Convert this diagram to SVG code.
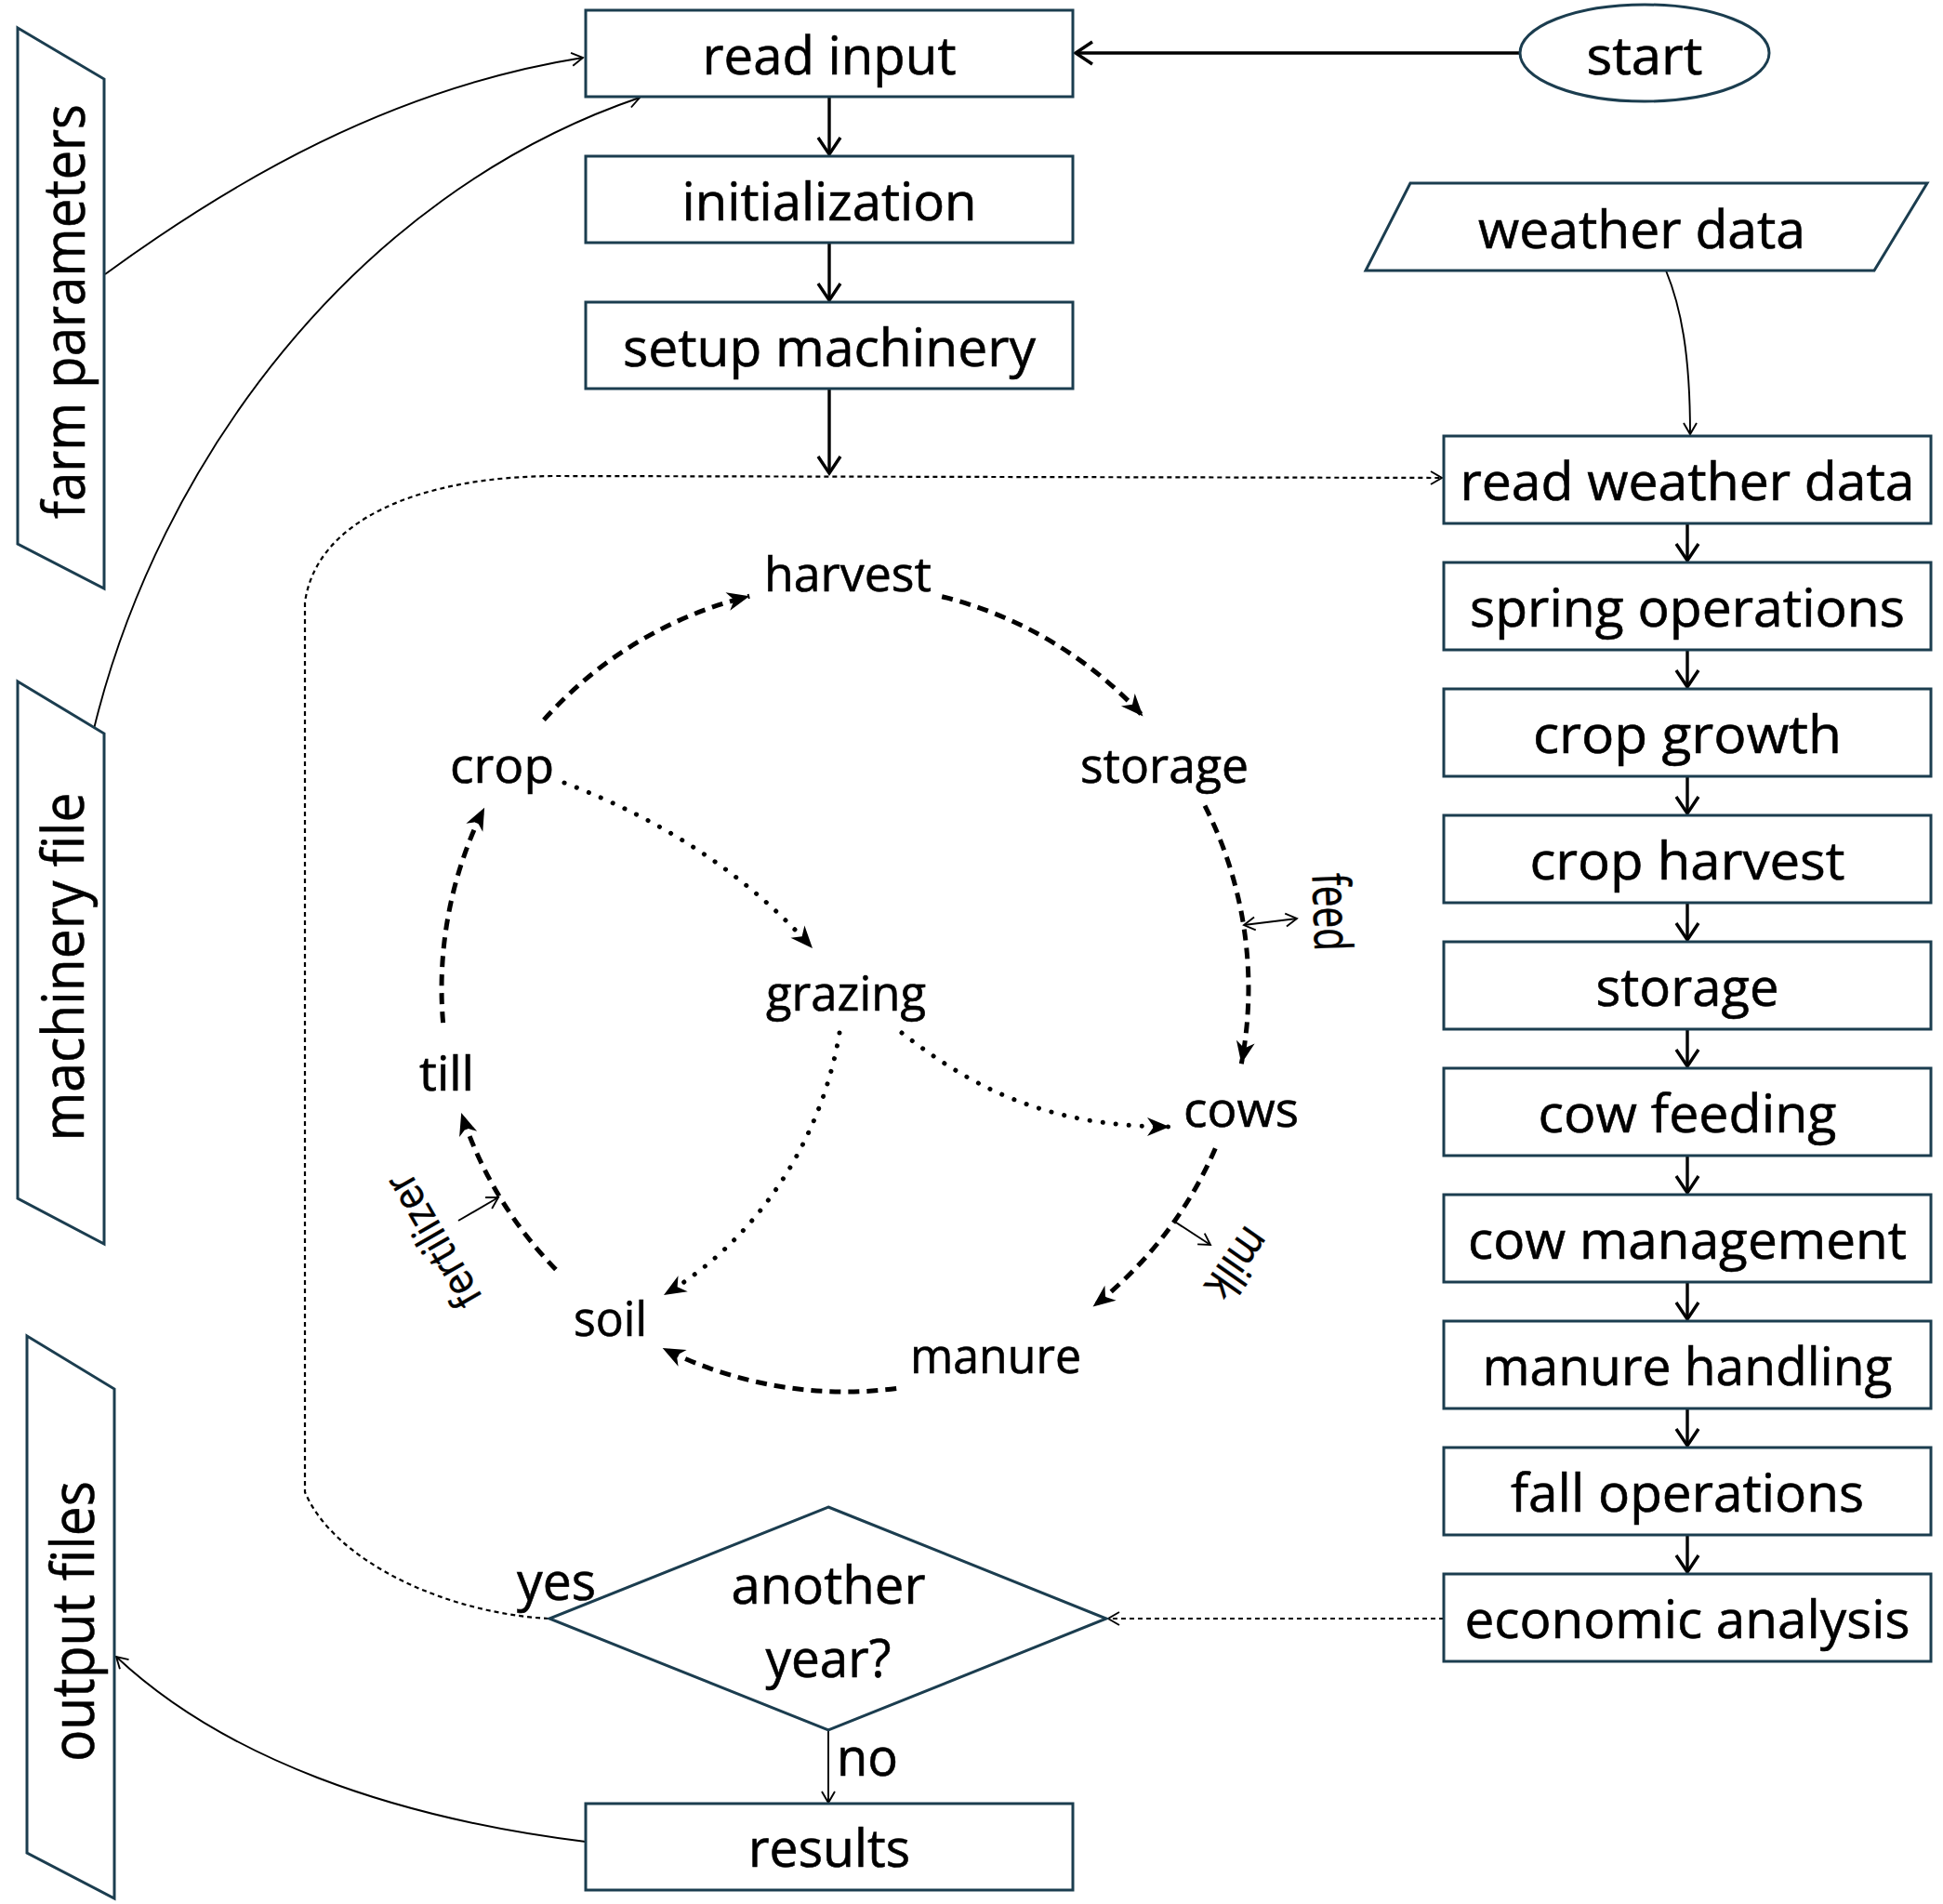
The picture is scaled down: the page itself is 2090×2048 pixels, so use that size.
<svg xmlns="http://www.w3.org/2000/svg" width="2090" height="2048" viewBox="0 0 2090 2048">
<style>
.box{fill:#fff;stroke:#1b3d4f;stroke-width:3}
.t{font-family:"Open Sans","Noto Sans","DejaVu Sans",sans-serif;font-size:56px;fill:#000;stroke:#000;stroke-width:0.6;text-anchor:middle}
.c{font-family:"Open Sans","Noto Sans","DejaVu Sans",sans-serif;font-size:51px;fill:#000;stroke:#000;stroke-width:0.6}
.s{font-family:"Open Sans","Noto Sans","DejaVu Sans",sans-serif;fill:#000;stroke:#000;stroke-width:0.5;text-anchor:middle}
.flow{stroke:#000;stroke-width:3.4;fill:none}
.thin{stroke:#000;stroke-width:1.9;fill:none}
.dash{stroke:#000;stroke-width:5;stroke-dasharray:12 8;fill:none}
.dot{stroke:#000;stroke-width:5;stroke-dasharray:0.1 14;stroke-linecap:round;fill:none}
.loop{stroke:#000;stroke-width:2.2;stroke-dasharray:5 4;fill:none}
</style>
<defs>
<marker id="av" markerUnits="userSpaceOnUse" markerWidth="26" markerHeight="30" refX="21" refY="14" orient="auto" overflow="visible">
<path d="M3,2 L21,14 L3,26" fill="none" stroke="#000" stroke-width="3.4"/>
</marker>
<marker id="at" markerUnits="userSpaceOnUse" markerWidth="16" markerHeight="18" refX="13" refY="8" orient="auto-start-reverse" overflow="visible">
<path d="M1,1 L13,8 L1,15" fill="none" stroke="#000" stroke-width="1.9"/>
</marker>
<marker id="af" markerUnits="userSpaceOnUse" markerWidth="26" markerHeight="22" refX="24" refY="10" orient="auto" overflow="visible">
<path d="M0,0 L24,10 L0,20 L7,10 z" fill="#000" stroke="none"/>
</marker>
</defs>

<g id="connectors">
<path class="flow" d="M1635 57 L1157 57" marker-end="url(#av)"/>
<path class="flow" d="M892 104 L892 166" marker-end="url(#av)"/>
<path class="flow" d="M892 261 L892 323" marker-end="url(#av)"/>
<path class="flow" d="M892 418 L892 509" marker-end="url(#av)"/>
<path class="flow" d="M1815 563 L1815 603" marker-end="url(#av)"/>
<path class="flow" d="M1815 699 L1815 739" marker-end="url(#av)"/>
<path class="flow" d="M1815 835 L1815 875" marker-end="url(#av)"/>
<path class="flow" d="M1815 971 L1815 1011" marker-end="url(#av)"/>
<path class="flow" d="M1815 1107 L1815 1147" marker-end="url(#av)"/>
<path class="flow" d="M1815 1243 L1815 1283" marker-end="url(#av)"/>
<path class="flow" d="M1815 1379 L1815 1419" marker-end="url(#av)"/>
<path class="flow" d="M1815 1515 L1815 1555" marker-end="url(#av)"/>
<path class="flow" d="M1815 1651 L1815 1691" marker-end="url(#av)"/>
<path class="thin" d="M1792 291 C1808 330 1818 380 1818 467" marker-end="url(#at)"/>
<path class="thin" d="M113 295 C250 195 420 95 627 62" marker-end="url(#at)"/>
<path class="thin" d="M101 784 C170 500 380 210 688 105" marker-end="url(#at)"/>
<path class="thin" d="M630 1981 C420 1955 240 1890 125 1782" marker-end="url(#at)"/>
<path class="thin" d="M891 1861 L891 1939" marker-end="url(#at)"/>
<path class="loop" d="M1553 1741 L1192 1741" marker-end="url(#at)"/>
<path class="loop" d="M590 1741 C480 1735 360 1680 328 1605 L328 648 C340 560 450 512 600 512 L1551 514" marker-end="url(#at)"/>
<path class="dash" d="M585.0 774.3 A434 434 0 0 1 806.2 641.3" marker-end="url(#af)"/>
<path class="dash" d="M1013.2 641.7 A434 434 0 0 1 1229.5 770.4" marker-end="url(#af)"/>
<path class="dash" d="M1296.0 866.7 A434 434 0 0 1 1335.3 1144.3" marker-end="url(#af)"/>
<path class="dash" d="M1307.3 1235.3 A434 434 0 0 1 1175.6 1405.5" marker-end="url(#af)"/>
<path class="dash" d="M964.2 1493.5 A434 434 0 0 1 712.7 1450.0" marker-end="url(#af)"/>
<path class="dash" d="M597.9 1365.6 A434 434 0 0 1 496.2 1197.1" marker-end="url(#af)"/>
<path class="dash" d="M476.6 1100.1 A434 434 0 0 1 521.1 868.7" marker-end="url(#af)"/>
<path class="dot" d="M607 842 Q769 903 874 1020" marker-end="url(#af)"/>
<path class="dot" d="M903 1111 C885 1220 820 1330 714 1393" marker-end="url(#af)"/>
<path class="dot" d="M970 1111 C1040 1165 1120 1212 1258 1212" marker-end="url(#af)"/>
<path class="thin" d="M1338 995 L1395 988" marker-start="url(#at)" marker-end="url(#at)"/>
<path class="thin" d="M1262 1313 L1302 1339" marker-end="url(#at)"/>
<path class="thin" d="M493 1313 L536 1288" marker-end="url(#at)"/>
</g>

<g id="start"><ellipse class="box" cx="1769" cy="57" rx="134" ry="52"/><text class="t" x="1769" y="80" textLength="125" lengthAdjust="spacingAndGlyphs">start</text></g>
<g id="read-input"><rect class="box" x="630" y="11" width="524" height="93"/><text class="t" x="892" y="80" textLength="273" lengthAdjust="spacingAndGlyphs">read input</text></g>
<g id="initialization"><rect class="box" x="630" y="168" width="524" height="93"/><text class="t" x="892" y="237" textLength="317" lengthAdjust="spacingAndGlyphs">initialization</text></g>
<g id="setup-machinery"><rect class="box" x="630" y="325" width="524" height="93"/><text class="t" x="892" y="394" textLength="444" lengthAdjust="spacingAndGlyphs">setup machinery</text></g>
<g id="weather-data"><polygon class="box" points="1517,197 2073,197 2016,291 1469,291"/><text class="t" x="1766" y="267" textLength="352" lengthAdjust="spacingAndGlyphs">weather data</text></g>

<g id="read-weather-data"><rect class="box" x="1553" y="469" width="524" height="94"/><text class="t" x="1815" y="538" textLength="489" lengthAdjust="spacingAndGlyphs">read weather data</text></g>
<g id="spring-operations"><rect class="box" x="1553" y="605" width="524" height="94"/><text class="t" x="1815" y="674" textLength="468" lengthAdjust="spacingAndGlyphs">spring operations</text></g>
<g id="crop-growth"><rect class="box" x="1553" y="741" width="524" height="94"/><text class="t" x="1815" y="810" textLength="332" lengthAdjust="spacingAndGlyphs">crop growth</text></g>
<g id="crop-harvest"><rect class="box" x="1553" y="877" width="524" height="94"/><text class="t" x="1815" y="946" textLength="339" lengthAdjust="spacingAndGlyphs">crop harvest</text></g>
<g id="storage-box"><rect class="box" x="1553" y="1013" width="524" height="94"/><text class="t" x="1815" y="1082" textLength="197" lengthAdjust="spacingAndGlyphs">storage</text></g>
<g id="cow-feeding"><rect class="box" x="1553" y="1149" width="524" height="94"/><text class="t" x="1815" y="1218" textLength="321" lengthAdjust="spacingAndGlyphs">cow feeding</text></g>
<g id="cow-management"><rect class="box" x="1553" y="1285" width="524" height="94"/><text class="t" x="1815" y="1354" textLength="472" lengthAdjust="spacingAndGlyphs">cow management</text></g>
<g id="manure-handling"><rect class="box" x="1553" y="1421" width="524" height="94"/><text class="t" x="1815" y="1490" textLength="441" lengthAdjust="spacingAndGlyphs">manure handling</text></g>
<g id="fall-operations"><rect class="box" x="1553" y="1557" width="524" height="94"/><text class="t" x="1815" y="1626" textLength="380" lengthAdjust="spacingAndGlyphs">fall operations</text></g>
<g id="economic-analysis"><rect class="box" x="1553" y="1693" width="524" height="94"/><text class="t" x="1815" y="1762" textLength="479" lengthAdjust="spacingAndGlyphs">economic analysis</text></g>

<g id="another-year"><polygon class="box" points="891,1621 1190,1741 891,1861 591,1741"/><text class="t" x="891" y="1725" textLength="209" lengthAdjust="spacingAndGlyphs">another</text><text class="t" x="891" y="1804" textLength="135" lengthAdjust="spacingAndGlyphs">year?</text></g>
<g id="yes-label"><text class="t" style="text-anchor:start" x="556" y="1721" textLength="85" lengthAdjust="spacingAndGlyphs">yes</text></g>
<g id="no-label"><text class="t" style="text-anchor:start" x="900" y="1910" textLength="66" lengthAdjust="spacingAndGlyphs">no</text></g>
<g id="results"><rect class="box" x="630" y="1940" width="524" height="93"/><text class="t" x="892" y="2008" textLength="174" lengthAdjust="spacingAndGlyphs">results</text></g>

<g id="farm-parameters"><polygon class="box" points="19,30 112,85 112,633 19,585"/><text class="s" style="font-size:62px" transform="translate(91 335) rotate(-90)" textLength="446" lengthAdjust="spacingAndGlyphs">farm parameters</text></g>
<g id="machinery-file"><polygon class="box" points="19,733 112,789 112,1338 19,1289"/><text class="s" style="font-size:62px" transform="translate(90 1040) rotate(-90)" textLength="375" lengthAdjust="spacingAndGlyphs">machinery file</text></g>
<g id="output-files"><polygon class="box" points="29,1437 123,1494 123,2042 29,1993"/><text class="s" style="font-size:64px" transform="translate(101 1744) rotate(-90)" textLength="302" lengthAdjust="spacingAndGlyphs">output files</text></g>

<g id="harvest"><text class="c" x="822" y="636" textLength="180" lengthAdjust="spacingAndGlyphs">harvest</text></g>
<g id="crop"><text class="c" x="484" y="842" textLength="112" lengthAdjust="spacingAndGlyphs">crop</text></g>
<g id="storage"><text class="c" x="1162" y="842" textLength="181" lengthAdjust="spacingAndGlyphs">storage</text></g>
<g id="grazing"><text class="c" x="824" y="1087" textLength="172" lengthAdjust="spacingAndGlyphs">grazing</text></g>
<g id="till"><text class="c" x="451" y="1173" textLength="59" lengthAdjust="spacingAndGlyphs">till</text></g>
<g id="cows"><text class="c" x="1273" y="1212" textLength="124" lengthAdjust="spacingAndGlyphs">cows</text></g>
<g id="soil"><text class="c" x="617" y="1437" textLength="79" lengthAdjust="spacingAndGlyphs">soil</text></g>
<g id="manure"><text class="c" x="979" y="1477" textLength="184" lengthAdjust="spacingAndGlyphs">manure</text></g>
<g id="feed"><text class="s" style="font-size:56px" transform="translate(1433 981) rotate(88)" y="20" textLength="84" lengthAdjust="spacingAndGlyphs">feed</text></g>
<g id="milk"><text class="s" style="font-size:50px" transform="translate(1332 1360) rotate(125)" y="18" textLength="82" lengthAdjust="spacingAndGlyphs">milk</text></g>
<g id="fertilizer"><text class="s" style="font-size:46px" transform="translate(465 1335) rotate(-120)" y="17" textLength="160" lengthAdjust="spacingAndGlyphs">fertilizer</text></g>
</svg>
